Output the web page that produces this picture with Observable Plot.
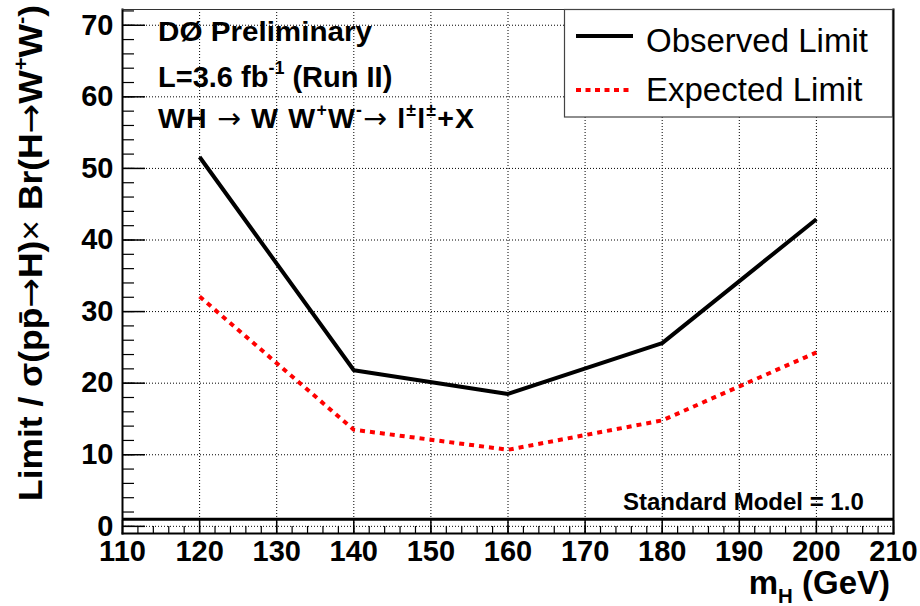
<!DOCTYPE html>
<html>
<head>
<meta charset="utf-8">
<script src="https://cdn.jsdelivr.net/npm/d3@7"></script>
<script src="https://cdn.jsdelivr.net/npm/@observablehq/plot@0.6"></script>
<style>
  html, body { margin: 0; padding: 0; background: #ffffff; }
  #chart { width: 920px; height: 606px; }
</style>
</head>
<body>
<div id="chart"></div>
<script>
// ---- data ----
const massPoints    = [120, 140, 160, 180, 200];
const observedLimit = [51.6, 21.8, 18.5, 25.6, 42.9];
const expectedLimit = [32.1, 13.5, 10.7, 14.8, 24.3];
const smLevel       = [1.0];
const xMajorTicks   = [110, 120, 130, 140, 150, 160, 170, 180, 190, 200, 210];
const xGridTicks    = [120, 130, 140, 150, 160, 170, 180, 190, 200];
const xMinorTicks   = d3.range(110, 211, 2);
const yMajorTicks   = [0, 10, 20, 30, 40, 50, 60, 70];
const yMinorTicks   = d3.range(0, 73, 2);

const legendLabels  = ["Observed Limit", "Expected Limit"];
const seriesColors  = ["#000000", "#ff0000"];

const data = massPoints.map((m, i) => ({mass: m, observed: observedLimit[i], expected: expectedLimit[i]}));

// ---- layout ----
const W = 920, H = 606;
const mL = 122, mR = 27, mT = 9, mB = 73;
const fw = W - mL - mR, fh = H - mT - mB;
const FONT = "'Liberation Sans', Arial, Helvetica, sans-serif";
const grid = {stroke: "#000", strokeOpacity: 1, strokeWidth: 1, strokeDasharray: "1,2"};

const plot = Plot.plot({
  width: W, height: H,
  marginLeft: mL, marginRight: mR, marginTop: mT, marginBottom: mB,
  style: {fontFamily: FONT, background: "#ffffff", color: "#000"},
  x: {domain: [110, 210], axis: null},
  y: {domain: [-1, 72.2], axis: null},
  marks: [
    Plot.gridX(xGridTicks, grid),
    Plot.gridY(yMajorTicks, grid),
    // inner ticks (ROOT style)
    Plot.ruleX(xMajorTicks, {x: d => d, insetTop: fh - 13, stroke: "#000", strokeWidth: 1.5}),
    Plot.ruleX(xMinorTicks, {x: d => d, insetTop: fh - 7, stroke: "#000", strokeWidth: 1.2}),
    Plot.ruleY(yMajorTicks, {y: d => d, insetRight: fw - 23, stroke: "#000", strokeWidth: 1.5}),
    Plot.ruleY(yMinorTicks, {y: d => d, insetRight: fw - 12, stroke: "#000", strokeWidth: 1.2}),
    Plot.axisX(xMajorTicks, {anchor: "bottom", tickSize: 0, tickPadding: 7, fontSize: 29, fontWeight: "bold", label: null, fill: "#000"}),
    Plot.axisY(yMajorTicks, {anchor: "left", tickSize: 0, tickPadding: 9, fontSize: 29, fontWeight: "bold", label: null, fill: "#000"}),
    // series
    Plot.line(data, {x: "mass", y: "expected", stroke: seriesColors[1], strokeWidth: 4, strokeDasharray: "5,5", strokeLinecap: "butt"}),
    Plot.line(data, {x: "mass", y: "observed", stroke: seriesColors[0], strokeWidth: 4, strokeLinecap: "butt", strokeLinejoin: "miter"}),
    Plot.ruleY(smLevel, {stroke: "#000", strokeWidth: 3}),
    // frame
    Plot.frame({anchor: "left", stroke: "#000", strokeWidth: 2}),
    Plot.frame({anchor: "bottom", stroke: "#000", strokeWidth: 2}),
    Plot.frame({anchor: "right", stroke: "#000", strokeWidth: 2}),
    Plot.frame({anchor: "top", stroke: "#333", strokeWidth: 1})
  ]
});

document.getElementById("chart").appendChild(plot);

// ---- rich text annotations (superscripts etc.) ----
const svg = d3.select(plot);
const g = svg.append("g")
  .attr("font-family", FONT)
  .attr("fill", "#000")
  .attr("text-anchor", "start");

const ARROW = "\u2192";
const ARROW_FONT = "'DejaVu Sans', sans-serif";

function rich(x, y, fs, weight, parts, anchor = "start", transform = null) {
  const t = g.append("text")
    .attr("x", x).attr("y", y)
    .attr("font-size", fs).attr("font-weight", weight)
    .attr("text-anchor", anchor);
  if (transform) t.attr("transform", transform);
  let shift = 0;
  for (const p of parts) {
    const target = p.sup ? -0.42 * fs : p.sub ? 0.28 * fs : 0;
    const ts = t.append("tspan").text(p.t).attr("dy", target - shift);
    if (p.sup || p.sub) ts.attr("font-size", fs * 0.62);
    if (p.w) ts.attr("font-weight", p.w);
    if (p.f) ts.attr("font-family", p.f);
    shift = target;
  }
  return t;
}

rich(158, 41, 28, "bold", [{t: "DØ Preliminary"}])
  .attr("textLength", 214).attr("lengthAdjust", "spacingAndGlyphs");
rich(158, 86.5, 29, "bold", [{t: "L=3.6 fb"}, {t: "-1", sup: true}, {t: " (Run II)"}]);
rich(158, 128, 28.5, "bold", [
  {t: "WH "}, {t: ARROW, w: "normal", f: ARROW_FONT}, {t: " W W"}, {t: "+", sup: true}, {t: "W"}, {t: "-", sup: true},
  {t: ARROW, w: "normal", f: ARROW_FONT}, {t: " l"}, {t: "±", sup: true}, {t: "l"}, {t: "±", sup: true}, {t: "+X"}
]).attr("textLength", 316).attr("lengthAdjust", "spacing");
rich(623, 509.5, 24, "bold", [{t: "Standard Model = 1.0"}]);

// axis titles
rich(890, 594, 33, "bold", [{t: "m"}, {t: "H", sub: true}, {t: " (GeV)"}], "end");
rich(0, 0, 34, "bold", [
  {t: "Limit / σ(pp\u0304"}, {t: ARROW, w: "normal", f: ARROW_FONT}, {t: "H)"}, {t: "×", w: "normal"}, {t: " Br(H"},
  {t: ARROW, w: "normal", f: ARROW_FONT}, {t: "W"}, {t: "+", sup: true}, {t: "W"}, {t: "-", sup: true}, {t: ")"}
], "end", "translate(42,5) rotate(-90)")
  .attr("textLength", 496).attr("lengthAdjust", "spacingAndGlyphs");

// ---- legend box inside the frame ----
const lg = g.append("g");
lg.append("rect").attr("x", 564.5).attr("y", 9.5).attr("width", 328).attr("height", 107.5)
  .attr("fill", "#fff").attr("stroke", "#444").attr("stroke-width", 1.2);
const legendRows = [36, 90];
const legendBaselines = [52, 101];
legendLabels.forEach((lab, i) => {
  lg.append("path")
    .attr("d", `M576,${legendRows[i]}H633`)
    .attr("fill", "none")
    .attr("stroke", seriesColors[i])
    .attr("stroke-width", 4)
    .attr("stroke-dasharray", i === 1 ? "5,4.5" : "none");
  lg.append("text")
    .attr("x", 646).attr("y", legendBaselines[i])
    .attr("font-size", 33).attr("font-weight", "normal")
    .attr("text-anchor", "start")
    .text(lab);
});
</script>
</body>
</html>
